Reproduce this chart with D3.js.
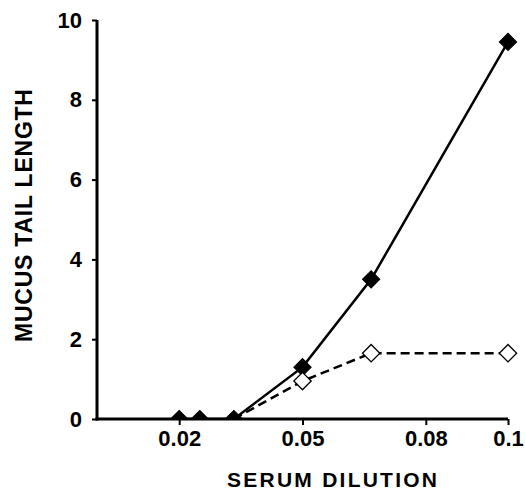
<!DOCTYPE html>
<html><head><meta charset="utf-8">
<script src="https://cdn.jsdelivr.net/npm/d3@7"></script>
<style>body{margin:0;background:#fff}svg{display:block}text{font-family:"Liberation Sans",Arial,sans-serif;fill:#000}</style>
</head><body><div id="c"></div>
<script>
const dilutions = [0.02, 0.025, 0.0333, 0.05, 0.0667, 0.1];
const filledValues = [0, 0, 0, 1.3, 3.5, 9.45];
const openDilutions = [0.0333, 0.05, 0.0667, 0.1];
const openValues = [0, 0.95, 1.65, 1.65];
const xTicks = [0.02, 0.05, 0.08, 0.1];
const xTickLabels = ["0.02", "0.05", "0.08", "0.1"];
const yTicks = [0, 2, 4, 6, 8, 10];

const W = 525, H = 493;
const svg = d3.select("#c").append("svg").attr("width", W).attr("height", H);
const x = d3.scaleLinear().domain([0, 0.1]).range([97, 508]);
const y = d3.scaleLinear().domain([0, 10]).range([419, 20]);

svg.append("clipPath").attr("id","clip").append("rect")
  .attr("x", 0).attr("y", 0).attr("width", W).attr("height", y(0));

const xAxis = svg.append("g").attr("transform", `translate(0,${y(0)})`)
  .call(d3.axisBottom(x).tickValues(xTicks).tickFormat((d,i)=>xTickLabels[i]).tickSize(6).tickSizeOuter(0).tickPadding(5));
const yAxis = svg.append("g").attr("transform", `translate(${x(0)},0)`)
  .call(d3.axisLeft(y).tickValues(yTicks).tickSize(5).tickSizeOuter(0).tickPadding(10));
[xAxis, yAxis].forEach(g => {
  g.select(".domain").attr("stroke", "#000").attr("stroke-width", 3);
  g.selectAll(".tick line").attr("stroke", "#000").attr("stroke-width", 2);
  g.selectAll(".tick text").attr("font-size", 22).attr("font-weight", "bold")
    .attr("font-family", "'Liberation Sans',Arial,sans-serif").attr("fill", "#000");
});
xAxis.select(".domain").attr("d", `M${x(0)-1.5},0H${x(0.1)}`);
yAxis.select(".domain").attr("d", `M0,${y(10)}V${y(0)+1.5}`);

const filled = dilutions.map((d,i)=>({x:d, y:filledValues[i]}));
const open = openDilutions.map((d,i)=>({x:d, y:openValues[i]}));
const line = d3.line().x(d=>x(d.x)).y(d=>y(d.y));

const plot = svg.append("g").attr("clip-path","url(#clip)");
plot.append("path").datum(open).attr("d", line).attr("fill","none").attr("stroke","#000")
  .attr("stroke-width", 2.5).attr("stroke-dasharray", "9,5");
plot.append("path").datum(filled).attr("d", line).attr("fill","none").attr("stroke","#000")
  .attr("stroke-width", 2.5);

const diamond = d3.symbol().type(d3.symbolSquare).size(150);
plot.selectAll(".filled").data(filled).enter().append("path")
  .attr("d", diamond).attr("transform", d=>`translate(${x(d.x)},${y(d.y)}) rotate(45)`)
  .attr("fill","#000").attr("stroke","#000").attr("stroke-width",1);
plot.selectAll(".open").data(open.slice(1)).enter().append("path")
  .attr("d", diamond).attr("transform", d=>`translate(${x(d.x)},${y(d.y)}) rotate(45)`)
  .attr("fill","#fff").attr("stroke","#000").attr("stroke-width",1.3);

svg.append("text").attr("x", 332).attr("y", 487).attr("text-anchor","middle")
  .attr("font-size", 21).attr("font-weight","bold")
  .attr("textLength", 210).attr("lengthAdjust","spacing").text("SERUM DILUTION");
svg.append("text").attr("transform", "translate(32,215.5) rotate(-90)").attr("text-anchor","middle")
  .attr("font-size", 23).attr("font-weight","bold")
  .attr("textLength", 253).attr("lengthAdjust","spacing").text("MUCUS TAIL LENGTH");
</script></body></html>
